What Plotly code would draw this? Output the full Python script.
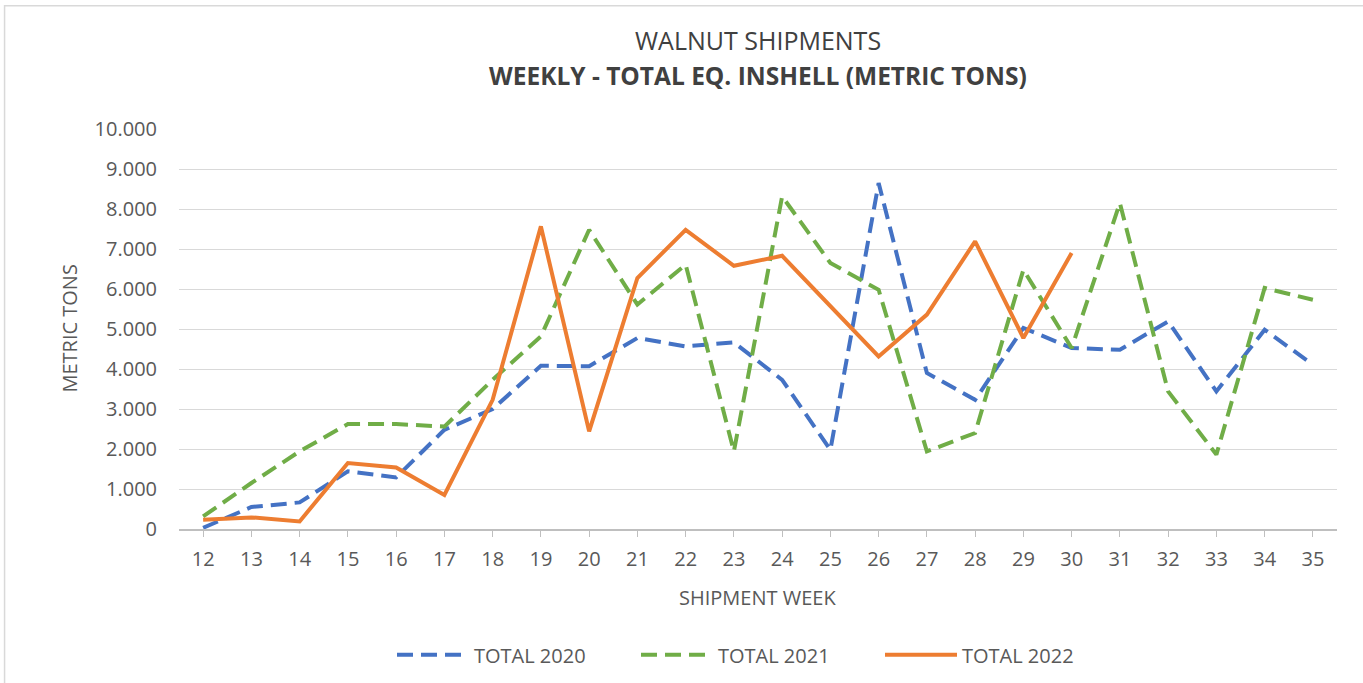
import plotly.graph_objects as go

weeks = list(range(12, 36))
total_2020 = [30, 550, 665, 1440, 1290, 2480, 3000, 4080, 4070, 4775, 4565, 4665,
              3730, 1980, 8650, 3900, 3230, 5025, 4525, 4480, 5190, 3440, 4980, 4110]
total_2021 = [315, 1150, 1940, 2625, 2625, 2560, 3730, 4815, 7480, 5610, 6610, 1940,
              8315, 6650, 5980, 1940, 2400, 6480, 4525, 8150, 3440, 1860, 6025, 5730]
weeks_2022 = list(range(12, 31))
total_2022 = [230, 290, 190, 1650, 1540, 850, 3230, 7565, 2440, 6275, 7480, 6580,
              6830, 5570, 4315, 5360, 7190, 4775, 6900]

y_ticks = list(range(0, 10001, 1000))

W, H = 1363, 683
L, R, T, B = 178.5, 26, 129.3, 153.7
pw, ph = W - L - R, H - T - B

def px(x):
    return (x - L) / pw

def py(y):
    return (H - B - y) / ph

FONT = "Open Sans"
GREY = "#595959"
DARK = "#404040"

fig = go.Figure()
fig.add_trace(go.Scatter(x=weeks, y=total_2020, mode="lines", name="TOTAL 2020",
                         line=dict(color="#4472C4", width=4, dash="16px,8px")))
fig.add_trace(go.Scatter(x=weeks, y=total_2021, mode="lines", name="TOTAL 2021",
                         line=dict(color="#70AD47", width=4, dash="16px,8px")))
fig.add_trace(go.Scatter(x=weeks_2022, y=total_2022, mode="lines", name="TOTAL 2022",
                         line=dict(color="#ED7D31", width=4)))

fig.update_layout(
    width=W, height=H,
    margin=dict(l=L, r=R, t=T, b=B, autoexpand=False),
    paper_bgcolor="white", plot_bgcolor="white",
    separators=",.",
    font=dict(family=FONT, color=GREY, size=20),
    showlegend=True,
    legend=dict(orientation="h", x=0.5, xanchor="center", y=py(655), yanchor="middle",
                font=dict(size=20, color=GREY), itemwidth=72,
                entrywidth=157, entrywidthmode="pixels"),
    xaxis=dict(range=[11.5, 35.5], tickmode="array", tickvals=weeks,
               ticktext=[str(w) for w in weeks], showgrid=False, zeroline=False,
               showline=True, linecolor="#BFBFBF", linewidth=1.5,
               ticks="outside", ticklen=6, tickcolor="#BFBFBF",
               ticklabelstandoff=5,
               tickfont=dict(size=20, color=GREY)),
    yaxis=dict(range=[0, 10000], tickmode="array", tickvals=y_ticks,
               tickformat=",d", showgrid=True, gridcolor="#D9D9D9", gridwidth=1.3,
               zeroline=False, showline=False, ticks="",
               ticklabelstandoff=21,
               tickfont=dict(size=20, color=GREY)),
    annotations=[
        dict(text="WALNUT SHIPMENTS", x=0.5, y=py(40), xref="paper", yref="paper",
             showarrow=False, font=dict(size=25, color=DARK, family=FONT),
             xanchor="center", yanchor="middle"),
        dict(text="<b>WEEKLY - TOTAL EQ. INSHELL (METRIC TONS)</b>", x=0.5, y=py(76),
             xref="paper", yref="paper", showarrow=False,
             font=dict(size=24.5, color=DARK, family=FONT),
             xanchor="center", yanchor="middle"),
        dict(text="METRIC TONS", x=px(68), y=0.5, xref="paper", yref="paper",
             showarrow=False, textangle=-90, font=dict(size=20, color=GREY),
             xanchor="center", yanchor="middle"),
        dict(text="SHIPMENT WEEK", x=px(757), y=py(598), xref="paper", yref="paper",
             showarrow=False, font=dict(size=20, color=GREY),
             xanchor="center", yanchor="middle"),
    ],
    shapes=[
        dict(type="rect", xref="paper", yref="paper",
             x0=px(4), x1=px(1364), y0=py(690), y1=py(6),
             line=dict(color="#D9D9D9", width=1.5), fillcolor="rgba(0,0,0,0)",
             layer="below"),
    ],
)

fig.write_html("out.html", config={"displayModeBar": False},
               post_script="document.body.style.margin='0';")
